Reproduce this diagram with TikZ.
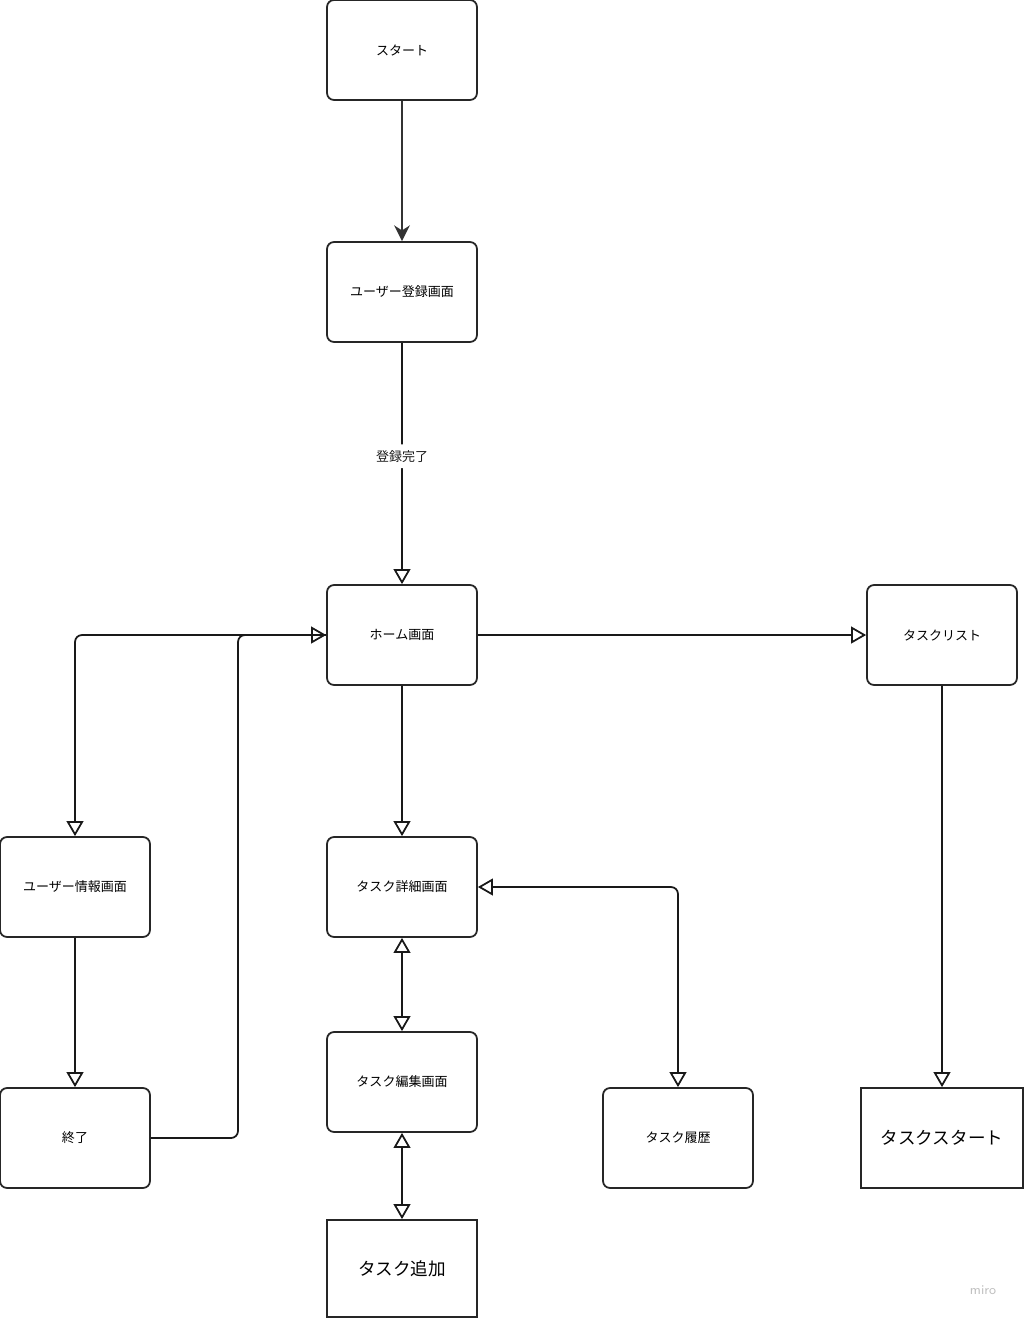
\documentclass[tikz,border=0pt]{standalone}
\usepackage{fontspec}
\setmainfont{Noto Sans CJK JP}
\usetikzlibrary{arrows.meta, positioning}

\begin{document}
\begin{tikzpicture}[
    x=0.02cm, y=-0.02cm,
    % Styles
    screen/.style={rectangle, draw=black!85, line width=1pt, fill=white, minimum width=3cm, minimum height=2cm, rounded corners=4pt, font=\fontsize{7.4}{9}\selectfont},
    plainbox/.style={rectangle, draw=black!85, line width=1pt, fill=white, minimum width=3cm, minimum height=2cm, font=\fontsize{10}{12}\selectfont},
    link/.style={-{Triangle[open, length=8.5pt, width=9.5pt]}, line width=1pt, color=black!90, rounded corners=4pt},
    twoway/.style={{Triangle[open, length=8.5pt, width=9.5pt]}-{Triangle[open, length=8.5pt, width=9.5pt]}, line width=1pt, color=black!90, rounded corners=4pt},
    arrow/.style={-{Stealth[length=9pt, width=9pt]}, line width=1pt, color=black!80}
]
\useasboundingbox (0,0) rectangle (1024,1319);

% Screens
\node[screen] (start) at (402,50) {スタート};
\node[screen] (register) at (402,292) {ユーザー登録画面};
\node[screen] (home) at (402,635) {ホーム画面};
\node[screen] (tasklist) at (942,635) {タスクリスト};
\node[screen] (userinfo) at (75,887) {ユーザー情報画面};
\node[screen] (detail) at (402,887) {タスク詳細画面};
\node[screen] (edit) at (402,1082) {タスク編集画面};
\node[screen] (history) at (678,1138) {タスク履歴};
\node[screen] (finish) at (75,1138) {終了};
\node[plainbox, minimum width=3.24cm] (taskstart) at (942,1138) {タスクスタート};
\node[plainbox, minimum height=1.94cm] (taskadd) at (402,1268.5) {タスク追加};

% Connectors
\draw[arrow] (start) -- (register);
\draw[link] (register) -- node[pos=0.47, fill=white, font=\fontsize{7.4}{9}\selectfont] {登録完了} (home);
\draw[link] (home) -- (tasklist);
\draw[link] (home.west) -- (75,635) -- (userinfo.north);
\draw[link] (userinfo) -- (finish);
\draw[link] (finish.east) -- (238,1138) -- (238,635) -- (home.west);
\draw[link] (home) -- (detail);
\draw[twoway] (detail) -- (edit);
\draw[twoway] (edit) -- (taskadd);
\draw[twoway] (detail.east) -- (678,887) -- (history.north);
\draw[link] (tasklist) -- (taskstart);

\node[text=black!25, font=\fontsize{7.5}{9}\sffamily] (miro) at (983,1290) {miro};
\end{tikzpicture}
\end{document}
